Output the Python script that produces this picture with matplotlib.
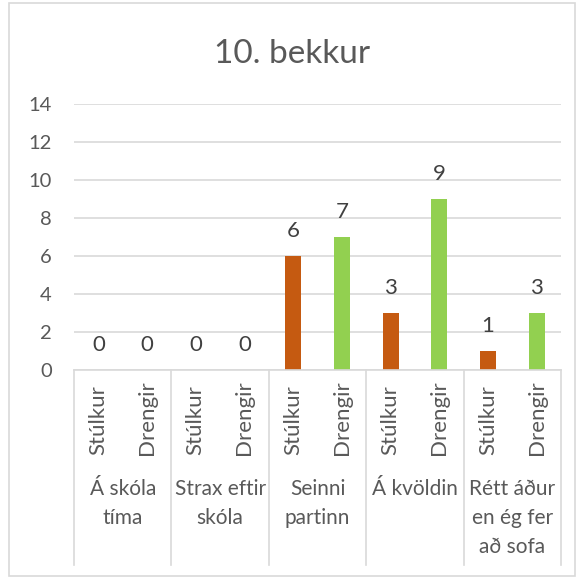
import numpy as np
import matplotlib.pyplot as plt
from matplotlib.lines import Line2D
from matplotlib.patches import Rectangle

groups = ["Á skóla\ntíma", "Strax eftir\nskóla", "Seinni\npartinn", "Á kvöldin",
          "Rétt áður\nen ég fer\nað sofa"]
series = ["Stúlkur", "Drengir"]
stulkur = [0, 0, 6, 3, 1]
drengir = [0, 0, 7, 9, 3]
colors = ["#C55A11", "#92D050"]

plt.rcParams['font.family'] = ['Lato', 'DejaVu Sans']
txt = "#595959"

fig = plt.figure(figsize=(5.85, 5.79), dpi=100)
ax = fig.add_axes([74 / 585, 209 / 579, 487 / 585, 266 / 579])

vals = np.array([stulkur, drengir]).T.ravel()
x = np.arange(len(vals)) + 0.5
cols = colors * len(groups)
ax.bar(x, vals, width=0.33, color=cols, zorder=3)
for xi, v in zip(x, vals):
    ax.annotate(str(v), (xi, v), xytext=(0, 11), textcoords="offset points",
                ha="center", va="bottom", fontsize=16, color="#404040")

ax.set_xlim(0, len(vals))
ax.set_ylim(0, 14)
ax.set_yticks(np.arange(0, 15, 2))
ax.tick_params(axis="y", length=0, pad=16, labelsize=14.5, labelcolor=txt)
ax.set_xticks([])
ax.grid(axis="y", color="#d9d9d9", linewidth=1.2, zorder=0)
for s in ax.spines.values():
    s.set_visible(False)

tr = ax.get_xaxis_transform()
px = 1 / 266
ax.add_line(Line2D([0, len(vals)], [0, 0], transform=tr, color="#d9d9d9",
                   linewidth=1.2, clip_on=False, zorder=4))
for k in range(len(groups) + 1):
    ax.add_line(Line2D([2 * k, 2 * k], [0, -195 * px], transform=tr,
                       color="#d9d9d9", linewidth=1.2, clip_on=False))
for i, xi in enumerate(x):
    ax.text(xi, -85 * px, series[i % 2], transform=tr, rotation=90,
            rotation_mode="anchor", ha="left", va="center", fontsize=16, color=txt)
for g, name in enumerate(groups):
    ax.text(2 * g + 1, -109 * px, name, transform=tr, ha="center", va="top",
            fontsize=15, color=txt, linespacing=1.55)

fig.text(0.5, 1 - 54 / 579, "10. bekkur", ha="center", va="center",
         fontsize=24, color=txt)
fig.patches.append(Rectangle((9 / 585, 3 / 579), 566 / 585, 573 / 579,
                             transform=fig.transFigure, fill=False,
                             edgecolor="#d9d9d9", linewidth=1.2))

fig.savefig("out.png", dpi=100)
